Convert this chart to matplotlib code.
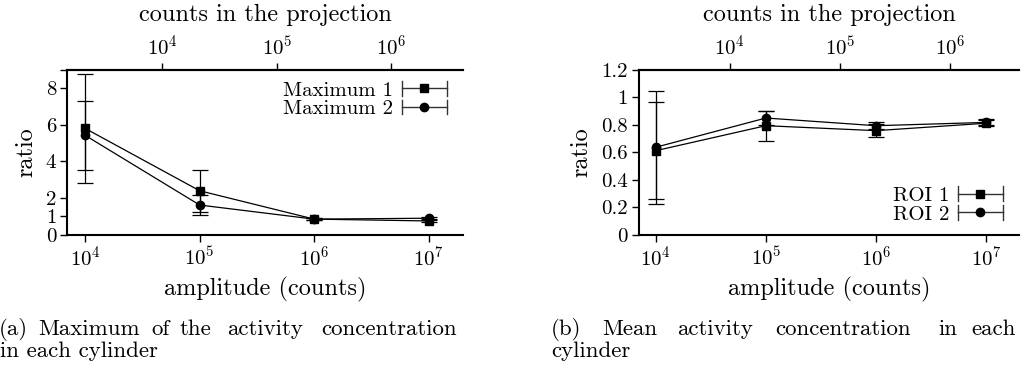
import matplotlib
matplotlib.use('Agg')
import matplotlib.pyplot as plt
from matplotlib.lines import Line2D
from matplotlib.legend_handler import HandlerBase
from matplotlib.ticker import NullLocator, FixedLocator

plt.rcParams['font.family'] = ['cmr10', 'DejaVu Serif']
plt.rcParams['mathtext.fontset'] = 'cm'
plt.rcParams['axes.formatter.use_mathtext'] = True

# data
amplitude = [1e4, 1e5, 1e6, 1e7]

max1 = [5.81, 2.40, 0.85, 0.75]
max1_err = [2.96, 1.14, 0.07, 0.06]
max2 = [5.43, 1.62, 0.85, 0.90]
max2_err = [1.90, 0.55, 0.06, 0.06]

roi1 = [0.612, 0.794, 0.758, 0.812]
roi1_err = [0.352, 0.109, 0.048, 0.022]
roi2 = [0.637, 0.850, 0.794, 0.818]
roi2_err = [0.412, 0.053, 0.025, 0.022]

proj_factor = 0.2123  # counts in projection / amplitude
proj_ticks = [1e4, 1e5, 1e6]

left_yticks = [0, 1, 2, 4, 6, 8, 9]
left_ylabels = ['0', '1', '2', '4', '6', '8', '']
right_yticks = [0, 0.2, 0.4, 0.6, 0.8, 1.0, 1.2]
right_ylabels = ['0', '0.2', '0.4', '0.6', '0.8', '1', '1.2']

TICK_FS = 15
LABEL_FS = 17.5
LEG_FS = 15
CAP_FS = 16.5


class GnuHandler(HandlerBase):
    # gnuplot style key sample: |----marker----|
    def create_artists(self, legend, orig_handle, xdescent, ydescent,
                       width, height, fontsize, trans):
        y = height / 2 - ydescent
        x0, x1 = -xdescent, width - xdescent
        h = height * 0.5
        arts = [
            Line2D([x0, x1], [y, y], color='#333333', lw=1.0),
            Line2D([x0, x0], [y - h, y + h], color='#333333', lw=1.0),
            Line2D([x1, x1], [y - h, y + h], color='#333333', lw=1.0),
            Line2D([(x0 + x1) / 2], [y], marker=orig_handle.get_marker(),
                   ms=orig_handle.get_markersize(), color='k', ls='none'),
        ]
        for a in arts:
            a.set_transform(trans)
        return arts


def draw_panel(ax, s1, e1, s2, e2, names, yticks, ylabels, ylim, loc, anchor):
    c1 = ax.errorbar(amplitude, s1, yerr=e1, color='k', lw=0.9, marker='s',
                     ms=6, capsize=5.5, elinewidth=0.9, capthick=0.9)
    c2 = ax.errorbar(amplitude, s2, yerr=e2, color='k', lw=0.9, marker='o',
                     ms=6, capsize=5.5, elinewidth=0.9, capthick=0.9)
    ax.set_xscale('log')
    ax.set_xlim(7000, 2e7)
    ax.set_ylim(*ylim)
    ax.xaxis.set_major_locator(FixedLocator(amplitude))
    ax.xaxis.set_minor_locator(NullLocator())
    ax.set_yticks(yticks)
    ax.set_yticklabels(ylabels)
    ax.tick_params(direction='out', length=5, width=1, labelsize=TICK_FS,
                   top=False, right=False, pad=3)
    ax.spines['right'].set_visible(False)
    for s in ['left', 'top', 'bottom']:
        ax.spines[s].set_linewidth(1.5)
    ax.set_xlabel('amplitude (counts)', fontsize=LABEL_FS, labelpad=5)
    ax.set_ylabel('ratio', fontsize=LABEL_FS, labelpad=6)

    sec = ax.secondary_xaxis('top', functions=(lambda x: x * proj_factor,
                                               lambda x: x / proj_factor))
    sec.xaxis.set_major_locator(FixedLocator(proj_ticks))
    sec.xaxis.set_minor_locator(NullLocator())
    sec.tick_params(direction='out', length=5, width=1, labelsize=TICK_FS, pad=3)
    sec.spines['top'].set_linewidth(1.5)
    sec.set_xlabel('counts in the projection', fontsize=LABEL_FS, labelpad=10)

    leg = ax.legend([c1.lines[0], c2.lines[0]], names, loc=loc,
                    bbox_to_anchor=anchor,
                    handler_map={Line2D: GnuHandler()}, markerfirst=False,
                    frameon=False, fontsize=LEG_FS, handlelength=2.15,
                    handletextpad=0.42, labelspacing=0.0,
                    borderpad=0.23, borderaxespad=0.3)
    for t in leg.get_texts():
        t.set_ha('right')
    return leg


fig = plt.figure(figsize=(10.25, 3.74), dpi=100)
ax1 = fig.add_axes([0.0657, 0.3725, 0.3863, 0.4404])
ax2 = fig.add_axes([0.6231, 0.3725, 0.3713, 0.4404])

draw_panel(ax1, max1, max1_err, max2, max2_err, ['Maximum 1', 'Maximum 2'],
           left_yticks, left_ylabels, (0, 9), 'upper right', (0.986, 1.0))
draw_panel(ax2, roi1, roi1_err, roi2, roi2_err, ['ROI 1', 'ROI 2'],
           right_yticks, right_ylabels, (0, 1.2), 'lower right', (0.985, 0.0))

# captions (justified like the LaTeX subcaptions)
W, H = 1025.0, 374.0
cap_a = [('(a)', -1), ('Maximum', 38), ('of', 151.5), ('the', 180),
         ('activity', 227.5), ('concentration', 321.5)]
cap_b = [('(b)', 551), ('Mean', 602.5), ('activity', 677.5),
         ('concentration', 775), ('in', 938), ('each', 971)]
for word, x in cap_a + cap_b:
    fig.text(x / W, 1 - 335 / H, word, fontsize=CAP_FS, va='baseline', ha='left')
fig.text(0 / W, 1 - 357 / H, 'in each cylinder', fontsize=CAP_FS, va='baseline')
fig.text(551 / W, 1 - 357 / H, 'cylinder', fontsize=CAP_FS, va='baseline')

fig.savefig('out.png', dpi=100)
